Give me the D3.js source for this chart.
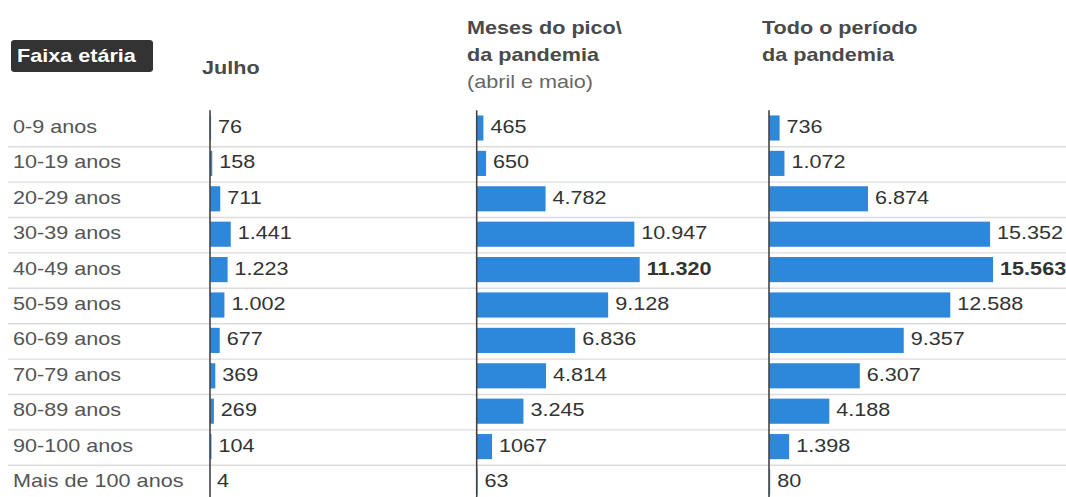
<!DOCTYPE html>
<html>
<head>
<meta charset="utf-8">
<script src="https://cdn.jsdelivr.net/npm/d3@7"></script>
<style>
  html, body { margin: 0; padding: 0; background: #fff; overflow: hidden; }
  svg { display: block; }
</style>
</head>
<body>
<svg id="chart"></svg>
<script>
// Óbitos por faixa etária em três recortes de tempo
const faixas = ["0-9 anos", "10-19 anos", "20-29 anos", "30-39 anos", "40-49 anos",
  "50-59 anos", "60-69 anos", "70-79 anos", "80-89 anos", "90-100 anos", "Mais de 100 anos"];

const julho = [76, 158, 711, 1441, 1223, 1002, 677, 369, 269, 104, 4];
const pico  = [465, 650, 4782, 10947, 11320, 9128, 6836, 4814, 3245, 1067, 63];
const total = [736, 1072, 6874, 15352, 15563, 12588, 9357, 6307, 4188, 1398, 80];

const rotulosJulho = ["76", "158", "711", "1.441", "1.223", "1.002", "677", "369", "269", "104", "4"];
const rotulosPico  = ["465", "650", "4.782", "10.947", "11.320", "9.128", "6.836", "4.814", "3.245", "1067", "63"];
const rotulosTotal = ["736", "1.072", "6.874", "15.352", "15.563", "12.588", "9.357", "6.307", "4.188", "1.398", "80"];

const titulos = [["Julho"], ["Meses do pico\\", "da pandemia"], ["Todo o período", "da pandemia"]];
const subtitulos = ["", "(abril e maio)", ""];
const cabecalhoFaixa = "Faixa etária";

// faixa com valores em destaque (negrito) em cada série
const destaqueFaixa = "40-49 anos";
const destaqueSeries = [false, true, true];

const series = [
  { valores: julho, rotulos: rotulosJulho },
  { valores: pico,  rotulos: rotulosPico },
  { valores: total, rotulos: rotulosTotal }
];

// ---- layout (pixels de tela) ----
const W = 1066, H = 497;
const SX = 1.2;                        // largura esticada da arte original
const px = v => v / SX;                // converte x de tela para o sistema interno
const eixosX = [210, 476.7, 769];      // linha de base de cada coluna
const titulosX = [202, 467, 762];      // início do título de cada coluna
const titulosY = [[74], [34, 61.5], [34, 61.5]];
const topo = 111.3, passo = 35.4;
const azul = "#2d88dc";

const svg = d3.select("#chart")
  .attr("width", W).attr("height", H)
  .attr("viewBox", `0 0 ${W / SX} ${H}`)
  .attr("preserveAspectRatio", "none")
  .style("font-family", "'Liberation Sans', Arial, sans-serif");

const y = d3.scaleBand()
  .domain(faixas)
  .range([topo, topo + faixas.length * passo])
  .paddingInner(0.29)
  .paddingOuter(0.145);

const x = d3.scaleLinear().domain([0, 16000]).range([0, px(230.4)]);

const meio = d => y(d) + y.bandwidth() / 2;
const folga = (y.step() - y.bandwidth()) / 2;

// linhas separadoras entre as faixas
svg.append("g")
  .selectAll("line")
  .data(faixas.slice(1))
  .join("line")
  .attr("x1", px(8)).attr("x2", W / SX)
  .attr("y1", d => y(d) - folga).attr("y2", d => y(d) - folga)
  .attr("stroke", "#dcdcdc").attr("stroke-width", 1.4);

// cabeçalho "Faixa etária"
svg.append("rect")
  .attr("x", px(11)).attr("y", 40)
  .attr("width", px(142)).attr("height", 32)
  .attr("rx", 3)
  .attr("fill", "#333");
svg.append("text")
  .attr("x", px(17)).attr("y", 62.5)
  .attr("fill", "#fff").attr("font-weight", "bold").attr("font-size", 18)
  .text(cabecalhoFaixa);

// rótulos das faixas
svg.append("g")
  .selectAll("text")
  .data(faixas)
  .join("text")
  .attr("x", px(13))
  .attr("y", d => meio(d) + 4)
  .attr("fill", "#555").attr("font-size", 18)
  .text(d => d);

// títulos das colunas
titulos.forEach((linhas, i) => {
  const t = svg.append("text")
    .attr("fill", "#4a4a4a").attr("font-weight", "bold").attr("font-size", 18);
  linhas.forEach((l, j) => {
    t.append("tspan")
      .attr("x", px(titulosX[i]))
      .attr("y", titulosY[i][j])
      .text(l);
  });
  if (subtitulos[i]) {
    svg.append("text")
      .attr("x", px(titulosX[i]))
      .attr("y", 88.5)
      .attr("fill", "#666").attr("font-size", 18)
      .text(subtitulos[i]);
  }
});

// barras, valores e eixo de cada coluna
series.forEach((s, i) => {
  const g = svg.append("g").attr("transform", `translate(${px(eixosX[i])},0)`);
  const dados = faixas.map((f, k) => ({ faixa: f, valor: s.valores[k], rotulo: s.rotulos[k] }));

  g.selectAll("rect")
    .data(dados)
    .join("rect")
    .attr("x", 0)
    .attr("y", d => y(d.faixa) - 1)
    .attr("width", d => x(d.valor))
    .attr("height", y.bandwidth())
    .attr("fill", azul);

  g.selectAll("text")
    .data(dados)
    .join("text")
    .attr("x", d => x(d.valor) + px(7))
    .attr("y", d => meio(d.faixa) + 4)
    .attr("fill", "#333").attr("font-size", 18)
    .attr("font-weight", d => destaqueSeries[i] && d.faixa === destaqueFaixa ? "bold" : "normal")
    .text(d => d.rotulo);

  g.append("line")
    .attr("x1", 0).attr("x2", 0)
    .attr("y1", topo - 1).attr("y2", H + 5)
    .attr("stroke", "#444").attr("stroke-width", px(1.6));
});
</script>
</body>
</html>
